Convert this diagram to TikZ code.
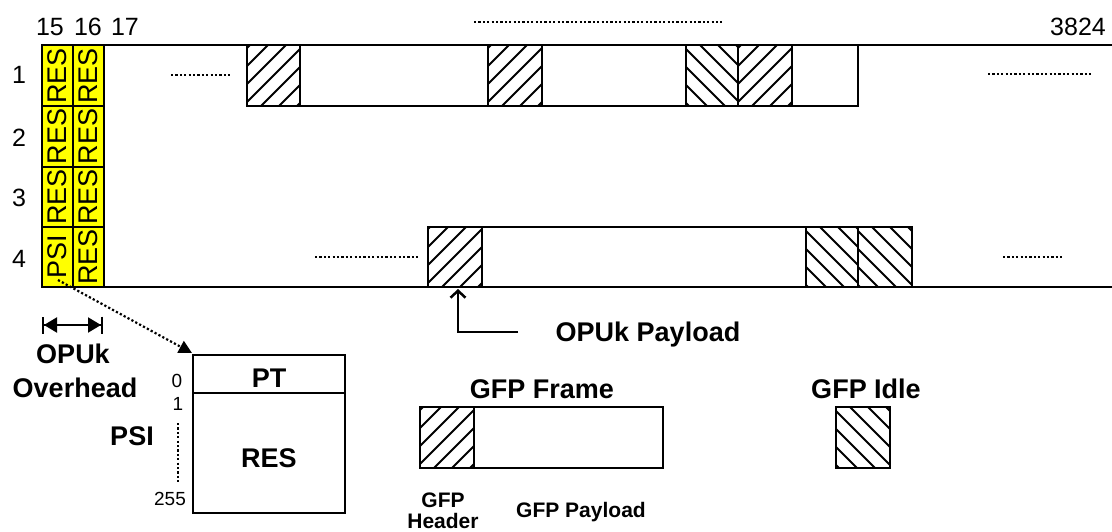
\documentclass[tikz,border=0pt]{standalone}
\usepackage{fontspec}
\setmainfont{Liberation Sans}
\usetikzlibrary{arrows.meta}
\definecolor{cellyellow}{RGB}{255,255,0}
\tikzset{
  frame/.style={line width=2.5pt, line join=miter},
  hatchline/.style={line width=1.8pt},
  dotline/.style={line width=2.2pt, dash pattern=on 2.2pt off 2.2pt},
  num/.style={inner sep=0pt, anchor=base, font=\fontsize{25}{30}\selectfont},
  small/.style={inner sep=0pt, anchor=base, font=\fontsize{19}{23}\selectfont},
  big/.style={inner sep=0pt, anchor=base, font=\fontsize{27}{32}\selectfont\bfseries},
  mid/.style={inner sep=0pt, anchor=base, font=\fontsize{21}{25}\selectfont\bfseries},
  celltext/.style={inner sep=0pt, rotate=90, font=\fontsize{27}{32}\selectfont},
}
\newcommand\hatchNE[4]{%
  \begin{scope}
    \clip (#1,#2) rectangle (#3,#4);
    \foreach \k in {-5,...,8} \draw[hatchline] ({#1+\k*18-4},#4) -- ++(80,-80);
  \end{scope}
  \draw[frame] (#1,#2) rectangle (#3,#4);}
\newcommand\hatchNW[4]{%
  \begin{scope}
    \clip (#1,#2) rectangle (#3,#4);
    \foreach \k in {-5,...,8} \draw[hatchline] ({#1+\k*18-4},#2) -- ++(80,80);
  \end{scope}
  \draw[frame] (#1,#2) rectangle (#3,#4);}
\begin{document}
\begin{tikzpicture}[x=1pt,y=-1pt]
\useasboundingbox (0,0) rectangle (1112,531);

% column and row labels
\node[num] (c15) at (50,35) {15};
\node[num] (c16) at (88,35) {16};
\node[num] (c17) at (125,35) {17};
\node[num] (c3824) at (1078,35) {3824};
\node[num] (r1) at (19,83) {1};
\node[num] (r2) at (19,146) {2};
\node[num] (r3) at (19,206) {3};
\node[num] (r4) at (19,267) {4};
\coordinate (topdotsA) at (474,22);
\coordinate (topdotsB) at (722,22);
\draw[dotline] (topdotsA) -- (topdotsB);

% overhead cells
\foreach \x in {42,73}{
  \foreach \y/\h in {45/61,106/61,167/60,227/60}{
    \draw[frame, fill=cellyellow] (\x,\y) rectangle ++(31,\h);
  }
}
\node[celltext] (res151) at (57.5,76) {RES};
\node[celltext] (res152) at (57.5,136.5) {RES};
\node[celltext] (res153) at (57.5,197) {RES};
\node[celltext] (psi154) at (57.5,257) {PSI};
\node[celltext] (res161) at (88,76) {RES};
\node[celltext] (res162) at (88,136.5) {RES};
\node[celltext] (res163) at (88,197) {RES};
\node[celltext] (res164) at (88,257) {RES};

% main frame lines
\draw[frame] (42,45) -- (1112,45);
\draw[frame] (42,287) -- (1112,287);

% row 1 GFP stream
\draw[frame] (247,45) rectangle (858,106);
\hatchNE{247}{45}{300}{106}
\hatchNE{488}{45}{542}{106}
\hatchNW{686}{45}{738}{106}
\hatchNE{738}{45}{792}{106}
\draw[dotline] (171,75) -- (232,75);
\draw[dotline] (988,74) -- (1093,74);

% row 4 GFP stream
\draw[frame] (428,227) rectangle (912,287);
\hatchNE{428}{227}{482}{287}
\hatchNW{806}{227}{858}{287}
\hatchNW{858}{227}{912}{287}
\draw[dotline] (315,257) -- (418,257);
\draw[dotline] (1003,257) -- (1063,257);

% OPUk payload pointer
\node[big] (opupay) at (648,341) {OPUk Payload};
\coordinate (payfoot) at (518,332);
\coordinate (paytip) at (458,289);
\draw[frame, -{Straight Barb[length=7pt,width=15pt]}] (payfoot) -| (paytip);

% OPUk overhead dimension
\coordinate (ohL) at (42,325);
\coordinate (ohR) at (103,325);
\draw[line width=2pt, {Bar[width=17pt]Triangle[length=13pt,width=15pt]}-{Triangle[length=13pt,width=15pt]Bar[width=17pt]}] (ohL) -- (ohR);
\node[big] (opuk) at (73,363) {OPUk};
\node[big] (overhead) at (75,397) {Overhead};

% PSI detail
\coordinate (psicell) at (58,280);
\coordinate (psicorner) at (192,353);
\draw[dotline, -{Triangle[length=13pt,width=13pt]}] (psicell) -- (psicorner);
\draw[frame] (193,355) rectangle (345,513);
\draw[frame] (193,393) -- (345,393);
\node[big] (pt) at (269,387) {PT};
\node[big] (psires) at (269,467) {RES};
\node[small] (n0) at (177,387) {0};
\node[small] (n1) at (178,410) {1};
\node[small] (n255) at (170,505) {255};
\node[big] (psilbl) at (132,445) {PSI};
\coordinate (psidotA) at (178,423);
\coordinate (psidotB) at (178,483);
\draw[dotline] (psidotA) -- (psidotB);

% GFP frame legend
\node[big] (gfpframe) at (542,398) {GFP Frame};
\draw[frame] (420,407) rectangle (663,468);
\hatchNE{420}{407}{474}{468}
\node[mid] (gfph1) at (443,507) {GFP};
\node[mid] (gfph2) at (443,528) {Header};
\node[mid] (gfppay) at (581,517) {GFP Payload};

% GFP idle legend
\node[big] (gfpidle) at (866,398) {GFP Idle};
\hatchNW{836}{407}{890}{468}
\end{tikzpicture}
\end{document}
